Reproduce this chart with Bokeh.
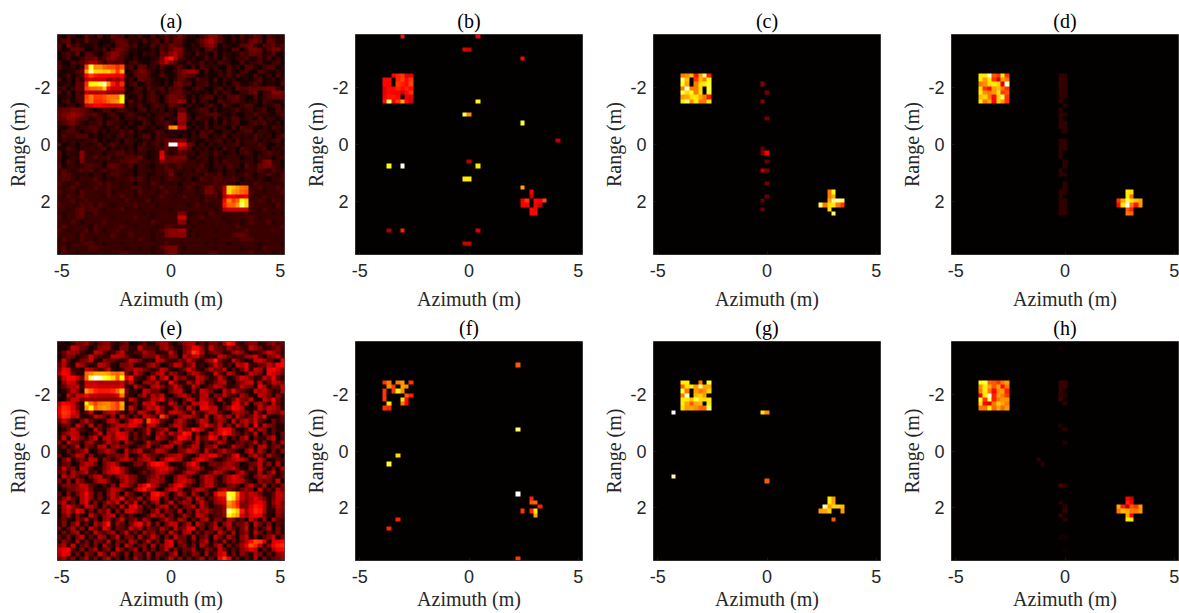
import numpy as np
from bokeh.embed import file_html
from bokeh.resources import INLINE
from bokeh.plotting import figure
from bokeh.layouts import column, row
from bokeh.models import Range1d, FixedTicker, LinearColorMapper

TITLES = ["(a)", "(b)", "(c)", "(d)", "(e)", "(f)", "(g)", "(h)"]
X_TICKS = [-5, 0, 5]
Y_TICKS = [-2, 0, 2]
N = 51

# Panels (a) and (e): one base-36 digit per cell, 0..z = 0..1, read by eye (spaces only group the digits)
A_ROWS = [
"3143115325 1254413242 1423534642 2135774213 1423541432 3",
"2451325231 1135542314 2341435521 1357964213 1325641542 2",
"4163421231 2314553412 1424355421 3146751321 2456314453 4",
"3125541132 4146642211 1314357731 2314531214 4136652466 3",
"1342514421 3577431213 2315479632 1423141321 2435542341 2",
"1241135563 4675421311 1236ce9431 3114231421 3341241413 1",
"3114346885 2544413421 1347a64214 2241314321 1413342134 1",
"421313 gskkihhfh 3415523141 1342141432 3114231442 134412",
"212245 lvoonolgm 1246642131 1357886141 2314213411 432131",
"124134 dgeddddcd 3145541242 1256542131 1324143214 213142",
"413142 abaaa7879 2315543113 1354214331 4132311213 412313",
"123154 fqqsxleaf 1341242213 1563413341 2131342134 312214",
"241354 giijndaaa 2134143341 4452134311 3413154454 556631",
"414143 a99997777 1233134132 4553312131 4143113356 134776",
"123144 gjgghjjjq 3124134314 6654131344 1314453114 134555",
"134134 hjffgiklq 1423134314 6687141331 1433443123 143213",
"213313 abddbbbbb 1324213431 5431312134 2143113441 132341",
"4556654312 4423432134 1323131551 2344131223 4233234114 3",
"5678764453 1342134321 3133431882 1234453213 1132433213 4",
"4577544134 1234133243 2234123883 1433141324 4133141331 3",
"3456431334 1433213114 3133431771 3124131423 4113434213 1",
"2134233443 1234131243 13124klaa2 1314133214 1433213143 2",
"1344313342 3132434131 2243122221 3143411331 2344133213 1",
"2433444131 2313423124 4143322131 3244132413 3231432313 4",
"1323223341 3123143213 3243555662 3113234131 4233413234 1",
"4123132234 1343233124 13425zzdc6 4131313233 4133243113 2",
"1243123323 4131313143 3233533774 1323131423 1432334132 3",
"4132273233 1334433233 123b323443 3133243123 1343123433 2",
"3123272343 3423344453 123c556662 1333132233 3123133313 3",
"3143163323 1333445533 3237555543 3233132433 3233136733 1",
"4133234433 1454334133 2133423423 3342133243 3143256643 1",
"3432343423 4334332133 3233453323 2433123133 1233343243 3",
"3543223133 1344323133 1233363133 3324334133 2343133432 4",
"3443233343 1323334343 2332343323 1243344334 3133232133 4",
"4323432334 3433233133 2432323133 4333343433 1332433323 3",
"3234323343 3433233433 2334333234 3235634 9onlji 33423343",
"4333243333 3423333243 3323433233 3236643 aolkih 43323334",
"3243343333 2433433233 3234332343 3323343 9ccbbc 33243333",
"3334234333 3333243323 4233333323 3324333 dkgiqo 33432433",
"4333343424 3323333433 3323333332 3433233 eiiluo 43333243",
"3323453443 2333423323 3333323333 3333323 9aaaaa 33243333",
"3233452343 3333233332 3233333662 2332433333 3343333323 2",
"4233443333 3323333433 3233333aa2 3343333233 3334323333 3",
"3324323333 4333323333 2433333772 3323333323 3234333423 3",
"3433333243 3333433233 3323443333 2333333333 4333333333 4",
"4323334243 2334333333 3234677882 3333323333 3343333343 3",
"3333243333 3343234333 3233677772 3233333334 5543333333 3",
"2433243323 3333333243 3233333333 3333323333 3444333333 3",
"3323334433 2333233333 3323433333 3332333323 3333323333 2",
"3423333443 3333323323 3234666323 3333323333 3233324333 3",
"2433233333 3333443333 3233566333 3333443333 3334333323 3",
]
E_ROWS = [
"21136684257732461135226883147993526639ec42577236845",
"113a96413788216622a54427953168cc72a65385642a8623574",
"25987312a95237a3244976223a5169ge92576238a731247b963",
"1476235b6423aa96212766a53771a79a5223a9523489b5168a4",
"2a51267a21765325a96212a953264a62279e632a7312ab9521c",
"5932a8413a9621668223796115a936a2315a7241a9c3256a7cd",
"6cb321a9645a21377a96524a82136b7325966a1526b3a92cdb7",
"9dc532 ikmmmljik 63a72159a2 87316a9522 b62a7314a8 61ca95",
"3adda6 iuzxsqoiq be5326b29c 1a6723a952 4a6137b962 3a7c52",
"17ba52 aaa99999a 5a21786a31 c62295a713 69a2157ab3 925a96",
"2589a3 bbbaaaaab 31a6219a73 5b722a6136 a95234a761 c9265a",
"125a72 lifeeefin 7231a95621 69a3172a96 21a6c7531a 8a6239",
"31a5aa daa9999bj 5216a397a2 158a6239a1 76a5329621 a96273",
"116aa6 777777778 2a7135a9c3 6215a72a96 3a126b75a2 1a7c62",
"9dca52 pjgjkkigm 1362a9b523 a7162a9bc7 2152ac6a17 963a52",
"bfeb62 lqiklkigl 2a516a9c72 3962a51cc9 a258dc9213 a6a972",
"cgfc925a2179a63162a952a73ab962a536a952179862a51976a",
"afe9a213a96271a5262a972gb316aa752a17a692a536a7c2125",
"5a7216a52139a715adc3hdb5217a7316a925961a38a6b521635",
"2562a71a26136 9a9cb729a5316a95213 9c85a271a692c3a75",
"126a7421a51 79a276135a257a21a67ec932 6bdc7215a397152",
"2 6 9 a 9 2 1 3 5 a 1 9 7 c b 9 3 6 2 5 a 1 7 a 3 a 6 9 e d 2 7 1 3 a 7 b e c 7 5 2 6 3 a 1 7 2 5 1 6",
"3 a 1 b 9 6 2 7 b 2 9 a 7 a c a 1 6 3 5 2 1 a 7 5 2 6 d c 9 2 a 5 6 d b 3 9 1 5 2 7 a 1 6 3 2 7 a 1 5",
"7 1 a 6 5 2 7 9 3 2 5 a 6 7 1 9 6 2 1 3 a 6 5 2 1 7 a 9 3 2 6 a 1 5 2 6 a 7 2 1 5 6 3 5 a 2 7 1 6 3 9",
"3 6 2 5 a 1 7 5 3 9 a 2 7 9 6 5 1 2 5 6 a 2 3 7 a 9 1 6 2 5 a 9 1 6 7 a 2 1 3 a 7 5 2 6 1 9 a 3 5 7 2",
"2 1 6 3 5 7 a 1 2 6 7 a 7 2 1 a 5 7 a 3 2 5 a 9 6 2 1 6 7 b 9 6 2 a 5 3 7 a 6 5 2 1 7 a 3 9 5 1 6 2 7",
"6 1 2 5 a 9 2 7 1 3 2 6 5 7 6 a 1 2 5 a 7 5 3 2 6 8 9 a 5 2 1 5 a 9 c c 7 2 5 a d 3 1 7 a 6 2 9 5 3 1",
"1 6 a 2 5 7 3 a 9 1 7 5 2 6 9 a 7 3 7 9 a 6 1 6 b d a 9 2 2 7 b c 9 6 2 2 4 7 9 b a 7 1 3 a 6 1 2 5 3",
"2 5 6 1 2 7 a 9 6 1 6 9 a 7 2 1 2 6 7 3 8 d e d 9 2 1 2 5 a d 9 2 1 6 6 5 7 9 7 5 1 2 5 6 a 3 7 1 9 2",
"4 a 5 7 1 a 9 3 1 2 6 9 c d 9 5 1 2 2 3 6 7 a b c 9 5 2 2 7 9 a 6 2 2 5 7 9 8 a 6 2 1 7 3 a 5 1 6 2 9",
"5 7 2 9 6 7 a 3 5 1 7 a b c 9 5 2 1 3 6 2 6 9 a 9 5 2 2 7 a 9 5 2 2 6 a 9 5 2 1 7 a 5 2 3 9 1 6 a 2 5",
"1 a 6 9 5 3 1 6 9 a 2 5 2 6 9 a 7 6 2 2 5 7 9 6 2 1 6 a 9 5 2 1 6 a 9 5 1 6 9 c b 7 2 1 6 8 a 7 3 2 5",
"6 2 8 1 9 6 2 2 7 a a 6 2 1 7 a 7 5 2 2 6 9 8 7 2 1 7 a b 9 6 1 5 a 9 5 2 6 9 b a 9 5 2 1 7 5 6 3 a 1",
"2 6 7 6 7 a 9 5 2 1 5 2 7 2 a 9 6 2 9 c f a 7 2 2 7 b d 9 5 2 1 6 9 a 5 2 2 6 7 5 1 6 a 5 3 9 1 5 2 7",
"1 2 5 6 7 9 a 6 2 2 1 6 a 9 6 2 2 7 c e a 7 2 1 7 a c 7 2 2 7 a 9 6 2 2 7 9 7 5 2 6 8 6 1 a 3 5 2 9 6",
"51726 9d725 17a61 95216 2deb7 15a62 95162 bffsqia 7a9622 5a9",
"27a51 9c726 15a7d 26591 6cc27 16259 2a715 7acupha 79c962 6a9",
"6a251 9c271 5a6b2 95a17 26915 a2697 16a52 79alie7 69bc92 7a6",
"19c75 2b961 7262a 1bd72 5169a 27157 a2961 457kif6 7bed92 597",
"28b6c a1627 5a172 ab962 16a27 52916 2a796 458vqne 8cfe92 286",
"16927 21a62 79a16 25112 5a792 61295 2a962 457qnlb 7bdc62 175",
"3 6 2 1 7 5 a 2 6 1 7 9 2 6 a 1 5 7 2 9 6 1 2 5 a 6 2 9 7 1 5 2 7 a 2 6 6 1 9 7 2 5 1 a 6 2 8 1 9 5 3",
"2 7 1 6 a 2 5 1 9 6 a e 2 7 5 1 6 b d 5 a 2 7 1 6 a a 2 5 9 1 a 6 2 5 9 1 7 a 2 6 5 9 1 a 6 2 7 1 5 3",
"6 1 5 9 2 7 1 a 6 2 c 9 1 6 5 2 a 6 8 1 7 5 2 9 6 1 a 5 7 c d 2 6 1 5 a 7 1 9 5 2 6 a 1 7 2 5 9 1 6 2",
"1 6 2 7 9 1 5 2 a 6 2 7 9 1 5 a 2 6 1 9 5 7 2 6 1 a 5 2 9 a 1 6 2 7 5 1 a 6 2 9 1 5 7 2 a 6 1 5 2 7 3",
"5 2 7 1 6 a 1 5 2 9 7 1 5 a 2 6 7 1 9 2 5 a 6 1 7 2 a 5 6 1 9 2 5 7 1 a 6 2 9 5 1 7 a 2 6 1 5 7 a 2 6",
"2 7 5 1 9 2 6 1 7 5 2 a 1 6 5 2 9 7 1 5 a 2 6 1 a c 2 7 5 1 5 2 7 a 1 6 2 9 1 5 2 6 9 d h g b 2 b c d",
"6 9 2 a 1 5 7 2 6 1 9 5 2 7 1 a 6 2 5 7 1 9 2 6 a b 1 5 7 2 6 1 9 5 2 7 a 1 6 2 5 8 c h f a 2 7 c e f",
"a c d 5 2 7 1 6 9 2 5 7 1 a 6 2 5 9 1 7 2 6 1 5 a 2 7 1 6 5 9 2 1 7 5 2 a 6 1 5 2 7 9 c a 1 6 2 9 c d",
"9 c b 2 6 1 7 5 2 a 6 1 9 5 2 7 1 6 5 2 9 1 7 5 2 6 a 1 5 2 7 6 1 9 2 5 a c 2 6 1 7 5 2 9 6 1 5 2 7 9",
"6 8 2 7 1 5 9 2 6 1 7 a 2 5 1 6 2 9 5 1 7 2 6 1 5 a 2 7 1 6 2 5 9 1 6 2 c g c 2 6 1 5 2 9 1 7 2 5 6 8",
]

# Panels (b,c,d,f,g,h): target block rows, first cell at column offset -19, 0 = empty
B_BLOCK = {-16:[0,0,.37,.42,.45,.33,.33],-15:[.38,.38,0,.42,.47,.38,.45],-14:[.38,.36,0,.45,.42,.38,.47],
           -13:[.33,.38,.38,.42,.38,.42,.38],-12:[.33,.38,.36,.36,.3,.38,.45],-11:[.36,.4,.4,.38,0,.36,.33],
           -10:[.4,.85,.37,.45,.62,.38,.3]}
C_BLOCK = {-16:[.55,.58,.65,.4,.62,.85,.42],-15:[.85,.65,0,.45,.65,.55,.75],-14:[.78,.62,0,.55,.7,.72,.8],
           -13:[.55,.95,.55,.55,.7,0,.8],-12:[.85,.7,.75,.55,.7,0,.78],-11:[.6,.62,.7,.72,.62,.55,.4],
           -10:[.72,.85,.58,.72,.55,.55,.72]}
D_BLOCK = {-16:[.72,.72,.95,.5,.45,.72,.45],-15:[.72,.6,.72,.45,.33,.6,.55],-14:[.55,.58,.7,.72,.68,.32,.95],
           -13:[.7,.45,.38,.6,.65,.55,.45],-12:[.72,.58,.55,.6,.72,.45,.5],-11:[.65,.68,.55,.38,.68,.85,.45],
           -10:[.72,.55,.62,.38,.68,.6,.45]}
F_BLOCK = {-16:[.45,.55,0,.55,.6,0,.45],-15:[0,.58,.45,0,.6,.58,0],-14:[.45,0,.45,.72,.58,0,0],
           -13:[.45,0,0,0,0,.5,.42],-12:[.45,0,0,0,.7,.38,0],-11:[0,.72,0,0,.55,.38,0],-10:[.45,.42,0,0,0,0,0]}
G_BLOCK = {-16:[.72,.72,0,0,.55,0,.8],-15:[.5,.7,.72,.6,.88,.62,.62],-14:[.8,.55,0,.6,.55,.58,.68],
           -13:[.55,.95,0,.65,.68,.6,0],-12:[.72,.72,.65,.82,.7,.7,.72],-11:[.72,.62,.5,.62,.65,0,.72],
           -10:[.7,.6,.62,.58,.52,.52,.85]}
H_BLOCK = {-16:[.75,.82,.52,.5,.45,.55,.6],-15:[.58,.72,.62,.5,.62,.38,.55],-14:[.55,.72,.55,.38,.58,.62,.42],
           -13:[.35,.72,.98,.42,.6,.55,.45],-12:[.78,.45,.85,.42,.55,.6,.6],-11:[.7,.38,.32,.55,.68,.62,.55],
           -10:[.55,.55,.72,.52,.62,.52,.6]}

# Isolated cells: (column offset, row offset, value)
B_CELLS = [(-15,-25,.4),(2,-25,.35),(-1,-22,.33),(0,-22,.3),(12,-20,.38),(20,-1,.28),(2,-10,.75),(-1,-7,.82),(0,-7,.58),
           (12,-5,.8),(-18,5,.75),(-15,5,.97),(0,4,.28),(2,5,.72),(-1,8,.72),(0,8,.72),(12,10,.62),(14,11,.36),(14,12,.28),
           (12,13,.36),(13,13,.45),(15,13,.38),(16,13,.36),(17,13,.48),(12,14,.36),(13,14,.36),(15,14,.36),(16,14,.3),
           (14,15,.38),(15,15,.36),(14,16,.38),(15,16,.38),(-18,20,.25),(-15,20,.42),(2,20,.32),(-1,23,.3),(0,23,.3)]
C_CELLS = [(-1,-14,.2),(0,-12,.17),(-1,-10,.2),(0,-6,.17),(-1,1,.14),(-1,2,.18),(0,2,.36),(0,4,.14),(-1,6,.27),(0,6,.17),
           (0,9,.17),(0,12,.14),(-1,13,.14),(-1,15,.17),(14,11,.55),(15,11,.75),(14,12,.55),(15,12,.62),(14,13,.62),(15,13,.9),
           (16,13,.9),(17,13,.85),(12,14,.85),(13,14,.55),(14,14,.7),(15,14,.72),(16,14,.55),(17,14,.45),(14,15,.7),(15,16,.85)]
D_CELLS = [(14,11,.72),(15,11,.7),(14,12,.72),(15,12,.52),(12,13,.45),(13,13,.62),(14,13,.85),(15,13,.72),(16,13,.65),(17,13,.62),
           (12,14,.38),(13,14,.72),(14,14,.98),(15,14,.55),(16,14,.4),(17,14,.6),(14,15,.5),(15,15,.42),(14,16,.55),(15,16,.52)]
D_STRIP_LEFT = {-16:.07,-15:.08,-14:.08,-13:.07,-12:.07,-11:.07,-10:.07,-8:.07,-7:.07,-6:.07,-5:.07,-4:.07,-1:.07,0:.07,1:.07,2:.07,3:.07,
                6:.07,7:.07,11:.07,12:.07,13:.07,14:.07,15:.07,16:.07}
D_STRIP_RIGHT = {-16:.07,-15:.06,-14:.07,-13:.07,-12:.07,-11:.07,-9:.06,-7:.07,-5:.07,-4:.06,-3:.07,-1:.07,0:.07,1:.07,4:.07,5:.07,
                 7:.07,9:.07,10:.07,11:.07,13:.07,14:.07,15:.07,16:.07}
F_CELLS = [(11,-20,.5),(11,-5,.85),(11,10,1.0),(11,25,.45),(-16,1,.7),(-18,3,.78),(-16,16,.42),(-18,18,.42),(14,11,.42),(14,12,.5),(15,12,.52),
           (16,13,.42),(12,14,.45),(14,14,.42),(15,14,.72),(15,15,.62)]
G_CELLS = [(-21,-9,1.0),(-21,6,.9),(-1,-9,.7),(0,-9,.58),(0,7,.5),(15,16,.5),(14,11,.72),(15,11,.6),(14,12,.72),(15,12,.62),(13,13,.92),(14,13,.6),
           (15,13,.68),(16,13,.68),(17,13,.65),(12,14,.6),(13,14,.62),(14,14,.68),(17,14,.6)]
H_CELLS = [(-1,-24,.02),(-1,-16,.08),(0,-16,.08),(-1,-15,.08),(0,-15,.08),(-1,-14,.08),(0,-14,.03),(-1,-13,.08),(0,-13,.06),(-1,-12,.1),(0,-11,.07),
           (-1,-6,.05),(0,-5,.07),(0,-2,.05),(-6,2,.07),(-5,3,.06),(-1,8,.12),(0,8,.06),(-1,12,.07),(0,13,.06),(0,14,.08),(-1,15,.09),(0,16,.07),(-1,20,.03),
           (0,20,.03),(0,23,.02),(14,11,.38),(15,11,.3),(14,12,.42),(15,12,.35),(12,13,.62),(13,13,.42),(14,13,.28),(15,13,.5),(16,13,.45),(17,13,.6),
           (12,14,.55),(13,14,.65),(14,14,.62),(15,14,.55),(16,14,.55),(17,14,.6),(14,15,.62),(15,15,.38),(14,16,.72),(15,16,.72)]

def from_rows(rows):
    out = []
    for r in rows:
        r = r.replace(" ", "").ljust(N, "2")[:N]
        out.append([int(ch, 36) / 35 for ch in r])
    return np.array(out)

def from_cells(block, cells):
    m = np.zeros((N, N))
    for l, vals in block.items():
        for i, v in enumerate(vals):
            m[l + 25, i - 19 + 25] = v
    for k, l, v in cells:
        m[l + 25, k + 25] = v
    return m

strip = [(-1, l, v) for l, v in D_STRIP_LEFT.items()] + [(0, l, v) for l, v in D_STRIP_RIGHT.items()]
PANELS = [from_rows(A_ROWS), from_cells(B_BLOCK, B_CELLS), from_cells(C_BLOCK, C_CELLS), from_cells(D_BLOCK, D_CELLS + strip),
          from_rows(E_ROWS), from_cells(F_BLOCK, F_CELLS), from_cells(G_BLOCK, G_CELLS), from_cells(H_BLOCK, H_CELLS)]

def hot(n=256):
    out = []
    nr = int(3 * n / 8)
    for i in range(n):
        r = min(1, (i + 1) / nr)
        g = min(1, max(0, (i + 1 - nr) / nr))
        b = min(1, max(0, (i + 1 - 2 * nr) / (n - 2 * nr)))
        out.append("#%02x%02x%02x" % (round(r * 255), round(g * 255), round(b * 255)))
    return out

mapper = LinearColorMapper(palette=hot(), low=0, high=1)
SERIF = "Liberation Serif"
SANS = "Liberation Sans"
INK = "#262626"
XH, YH = 5.2, 3.88

def style_axis(ax, ticks, standoff):
    ax.ticker = FixedTicker(ticks=ticks)
    ax.major_tick_in = 3
    ax.major_tick_out = 0
    ax.minor_tick_line_color = None
    ax.axis_line_color = INK
    ax.axis_line_width = 0.6
    ax.major_tick_line_color = INK
    ax.major_tick_line_width = 0.6
    ax.major_label_text_font = SANS
    ax.major_label_text_font_size = "18px"
    ax.major_label_text_color = INK
    ax.major_label_overrides = {t: str(t) for t in ticks}
    ax.major_label_standoff = standoff
    ax.axis_label_text_font = SERIF
    ax.axis_label_text_font_size = "20px"
    ax.axis_label_text_font_style = "normal"
    ax.axis_label_text_color = INK

def panel(idx, last_col, lower):
    w = 285 if last_col else 298
    fh = 219 if lower else 220
    h = 301 if lower else 312
    top = 29 if lower else 34
    p = figure(width=w, height=h, output_backend="svg", toolbar_location=None,
               x_range=Range1d(-XH, XH), y_range=Range1d(YH, -YH),
               min_border_left=57, min_border_right=w - 57 - 227, min_border_top=top, min_border_bottom=h - top - fh,
               x_axis_label="Azimuth (m)", y_axis_label="Range (m)")
    p.title.text = TITLES[idx]
    p.title.align = "center"
    p.title.text_font = SERIF
    p.title.text_font_size = "20px"
    p.title.text_font_style = "normal"
    p.title.text_color = "#000000"
    p.title.standoff = 5
    p.image(image=[PANELS[idx]], x=-XH, y=-YH, dw=2 * XH, dh=2 * YH, color_mapper=mapper)
    p.grid.visible = False
    p.outline_line_color = INK
    p.outline_line_width = 0.6
    p.background_fill_color = "#0a0000"
    style_axis(p.xaxis[0], X_TICKS, 9)
    style_axis(p.yaxis[0], Y_TICKS, 7)
    p.xaxis[0].axis_label_standoff = 2 if lower else 8
    p.yaxis[0].axis_label_standoff = 2
    return p

figs = [panel(i, i % 4 == 3, i >= 4) for i in range(8)]
page = column(row(*figs[:4]), row(*figs[4:]))
open("out.html", "w").write(file_html(page, INLINE))
